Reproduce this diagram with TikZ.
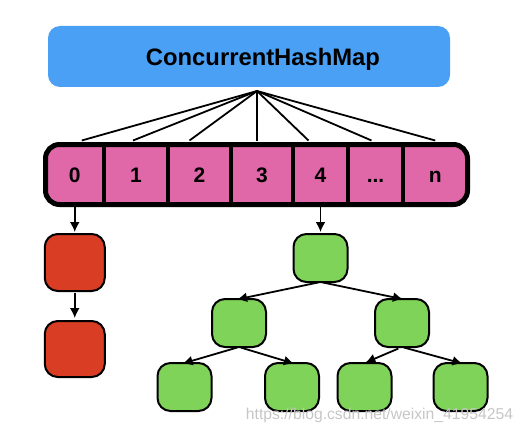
\documentclass[tikz,border=0pt]{standalone}
\usepackage{fontspec}
\setmainfont{Liberation Sans}
\usetikzlibrary{positioning,backgrounds,arrows.meta}
\definecolor{MapBlue}{HTML}{4AA0F5}
\definecolor{SlotPink}{HTML}{E068A8}
\definecolor{ListRed}{HTML}{D93D24}
\definecolor{TreeGreen}{HTML}{7ED358}

\begin{document}
\begin{tikzpicture}[
    x=1pt, y=1pt,
    every node/.style={inner sep=0pt, outer sep=0pt},
    mapbox/.style={fill=MapBlue, rounded corners=12pt, minimum width=402pt,
minimum height=61pt, text depth=0pt, font=\fontsize{23.8}{24}\selectfont\bfseries},
    slot/.style={minimum height=60pt, text height=15pt, text depth=0pt,
font=\fontsize{21}{21}\selectfont\bfseries},
    listnode/.style={draw, line width=2pt, rounded corners=13pt, fill=ListRed,
minimum width=60pt},
    treenode/.style={draw, line width=2pt, rounded corners=13pt, fill=TreeGreen,
minimum width=54pt, minimum height=48pt},
    link/.style={-{Latex[length=10pt,width=10pt]}, line width=1.8pt},
    fan/.style={line width=1.8pt}]

    \useasboundingbox (0,0) rectangle (529,-433);

    \node[mapbox] (map) at (249,-56.5) {\hspace*{28pt}ConcurrentHashMap};
    \coordinate (hub) at (257,-91);

    % the table
    \node[slot, minimum width=58.5pt] (c0) at (74.75,-174.5) {0};
    \node[slot, minimum width=64pt, right=0pt of c0] (c1) {1};
    \node[slot, minimum width=63pt, right=0pt of c1] (c2) {2};
    \node[slot, minimum width=62pt, right=0pt of c2] (c3) {3};
    \node[slot, minimum width=55pt, right=0pt of c3] (c4) {4};
    \node[slot, minimum width=55pt, right=0pt of c4] (c5) {...};
    \node[slot, minimum width=64.5pt, right=0pt of c5] (c6) {n};
    \begin{scope}[on background layer]
        \draw[line width=5pt, rounded corners=14pt, fill=SlotPink]
            (c0.north west) rectangle (c6.south east);
    \end{scope}
    \foreach \s in {c0,c1,c2,c3,c4,c5}
        \draw[line width=4pt] (\s.north east) -- (\s.south east);

    \foreach \s/\dx in {c0/7,c1/-3,c2/-10,c3/-5,c4/-12,c5/-4,c6/0}
        \draw[fan] (hub) -- ([xshift=\dx pt,yshift=4pt]\s.north);

    % linked list
    \node[listnode, minimum height=57pt, below=29.5pt of c0] (r1) {};
        \node[listnode, minimum height=56pt, below=30pt of r1] (r2) {};
    \draw[link, shorten >=2pt] (c0.south) -- (r1.north);
    \draw[link, shorten <=2pt, shorten >=3pt] (r1.south) -- (r2.north);

    % red-black tree
    \node[treenode, below=29.5pt of c4] (g0) {};
        \node[treenode, below=17pt of g0, xshift=-81.5pt] (gL) {};
            \node[treenode, below=16pt of gL, xshift=-54.5pt] (gLL) {};
            \node[treenode, below=16pt of gL, xshift=53pt] (gLR) {};
        \node[treenode, below=17pt of g0, xshift=81.5pt] (gR) {};
            \node[treenode, below=16pt of gR, xshift=-37.5pt] (gRL) {};
            \node[treenode, below=16pt of gR, xshift=58.5pt] (gRR) {};
    \draw[link, shorten >=2pt] (c4.south) -- (g0.north);
    \draw[link, shorten <=2pt, shorten >=-2pt] (g0.south) -- (gL.north);
    \draw[link, shorten <=2pt, shorten >=-1pt] (g0.south) -- (gR.north);
    \draw[link, shorten <=2pt, shorten >=-2pt] (gL.south) -- (gLL.north);
    \draw[link, shorten <=2pt, shorten >=-2pt] (gL.south) -- (gLR.north);
    \draw[link, shorten <=4pt, shorten >=1pt] (gR.south) -- (gRL.north);
    \draw[link, shorten <=2pt, shorten >=-2pt] (gR.south) -- (gRR.north);

    \node[text=gray!45, font=\fontsize{15.7}{16}\selectfont] (wm) at (379.5,-415)
        {https://blog.csdn.net/weixin\_41954254};

\end{tikzpicture}
\end{document}
